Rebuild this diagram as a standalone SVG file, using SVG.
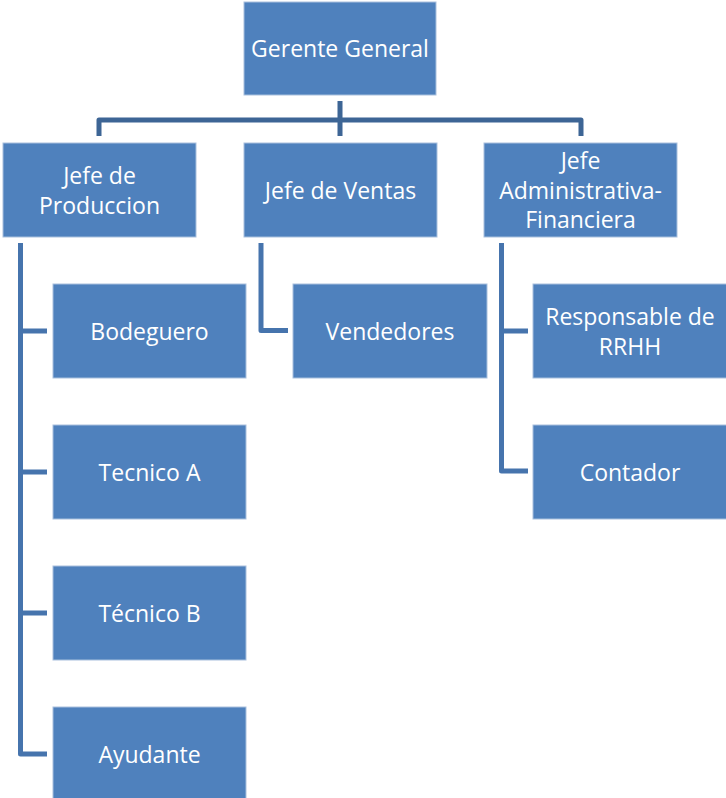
<svg xmlns="http://www.w3.org/2000/svg" width="726" height="798" viewBox="0 0 726 798">
  <style>
    .box rect { fill: #4F81BD; stroke: #A9C0DD; stroke-width: 1; }
    .box text { fill: #FFFFFF; font-family: "Open Sans", "Noto Sans", "Liberation Sans", sans-serif; font-size: 23px; text-anchor: middle; dominant-baseline: central; }
    .link { fill: none; stroke-width: 5; stroke-linejoin: round; }
    .top { stroke: #3D6595; }
    .sub { stroke: #4674AD; }
  </style>
  <rect width="726" height="798" fill="#FFFFFF"/>

  <!-- connectors -->
  <g id="connectors">
    <path class="link top" d="M340,101 V136 M99,136 V120 H581 V136"/>
    <path class="link sub" d="M20.5,243 V754 H47 M20.5,331 H47 M20.5,472 H47 M20.5,613 H47"/>
    <path class="link sub" d="M261,243 V330.5 H288"/>
    <path class="link sub" d="M501.5,243 V471 H528 M501.5,331 H528"/>
  </g>

  <g id="gerente-general" class="box">
    <rect x="244" y="2" width="192" height="93"/>
    <text x="340" y="48">Gerente General</text>
  </g>

  <g id="jefe-produccion" class="box">
    <rect x="3" y="143" width="193" height="94"/>
    <text x="99.5" y="175">Jefe de</text>
    <text x="99.5" y="205">Produccion</text>
  </g>

  <g id="jefe-ventas" class="box">
    <rect x="244" y="143" width="193" height="94"/>
    <text x="340.5" y="190">Jefe de Ventas</text>
  </g>

  <g id="jefe-administrativa" class="box">
    <rect x="484" y="143" width="193" height="94"/>
    <text x="580.5" y="160">Jefe</text>
    <text x="580.5" y="190">Administrativa-</text>
    <text x="580.5" y="219">Financiera</text>
  </g>

  <g id="bodeguero" class="box">
    <rect x="53" y="284" width="193" height="94"/>
    <text x="149.5" y="331">Bodeguero</text>
  </g>

  <g id="tecnico-a" class="box">
    <rect x="53" y="425" width="193" height="94"/>
    <text x="149.5" y="472">Tecnico A</text>
  </g>

  <g id="tecnico-b" class="box">
    <rect x="53" y="566" width="193" height="94"/>
    <text x="149.5" y="613">Técnico B</text>
  </g>

  <g id="ayudante" class="box">
    <rect x="53" y="707" width="193" height="94"/>
    <text x="149.5" y="754">Ayudante</text>
  </g>

  <g id="vendedores" class="box">
    <rect x="293" y="284" width="194" height="94"/>
    <text x="390" y="331">Vendedores</text>
  </g>

  <g id="responsable-rrhh" class="box">
    <rect x="533" y="284" width="194" height="94"/>
    <text x="630" y="316">Responsable de</text>
    <text x="630" y="346">RRHH</text>
  </g>

  <g id="contador" class="box">
    <rect x="533" y="425" width="194" height="94"/>
    <text x="630" y="472">Contador</text>
  </g>
</svg>
